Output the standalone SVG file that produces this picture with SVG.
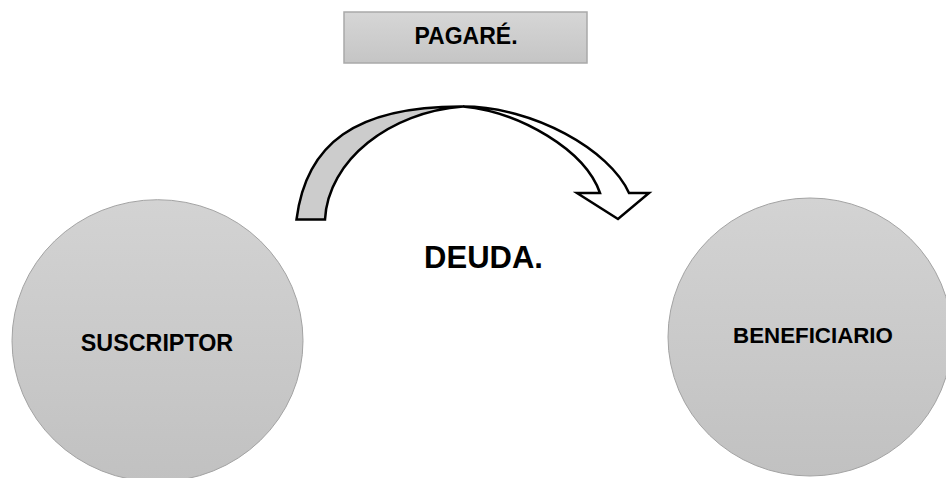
<svg xmlns="http://www.w3.org/2000/svg" width="946" height="478" viewBox="0 0 946 478">
  <defs>
    <linearGradient id="gradCircle" x1="0" y1="0" x2="0" y2="1">
      <stop offset="0" stop-color="#d3d3d3"/>
      <stop offset="1" stop-color="#c1c1c1"/>
    </linearGradient>
    <linearGradient id="gradBox" x1="0" y1="0" x2="0" y2="1">
      <stop offset="0" stop-color="#d6d6d6"/>
      <stop offset="1" stop-color="#c5c5c5"/>
    </linearGradient>
  </defs>
  <style>
    .node { fill: url(#gradCircle); stroke: #a3a3a3; stroke-width: 1; }
    .box { fill: url(#gradBox); stroke: #a9a9a9; stroke-width: 1.5; }
    .label { font-family: "Liberation Sans", Arial, sans-serif; font-weight: bold; fill: #000; text-anchor: middle; }
    .arrow-back { fill: #cccccc; stroke: #000; stroke-width: 2.5; stroke-linejoin: miter; }
    .arrow-front { fill: #ffffff; stroke: #000; stroke-width: 2.5; stroke-linejoin: miter; }
  </style>

  <rect width="946" height="478" fill="#ffffff"/>

  <!-- document box -->
  <g id="pagare">
    <rect class="box" x="344" y="12" width="243" height="51"/>
    <text class="label" x="466" y="44" font-size="23">PAGARÉ.</text>
  </g>

  <!-- curved arrow from the issuer to the payee -->
  <g id="connectors">
    <path class="arrow-back" d="M296.5,219.5 C306,144 355,106 463,106.5 C390,112 328,160 325,219.5 Z"/>
    <path class="arrow-front" d="M463,106.5 C533,106.5 610,150 629,193 L649,193 L618,219 L577,193 L600,193 C585,150 520,112 463,106.5 Z"/>
  </g>

  <g id="deuda">
    <text class="label" x="483.5" y="268" font-size="31">DEUDA.</text>
  </g>

  <g id="suscriptor">
    <ellipse class="node" cx="157.5" cy="340.7" rx="145.5" ry="141"/>
    <text class="label" x="157" y="351" font-size="23.3">SUSCRIPTOR</text>
  </g>

  <g id="beneficiario">
    <ellipse class="node" cx="810" cy="337" rx="142" ry="139"/>
    <text class="label" x="813" y="343" font-size="22.3">BENEFICIARIO</text>
  </g>
</svg>
